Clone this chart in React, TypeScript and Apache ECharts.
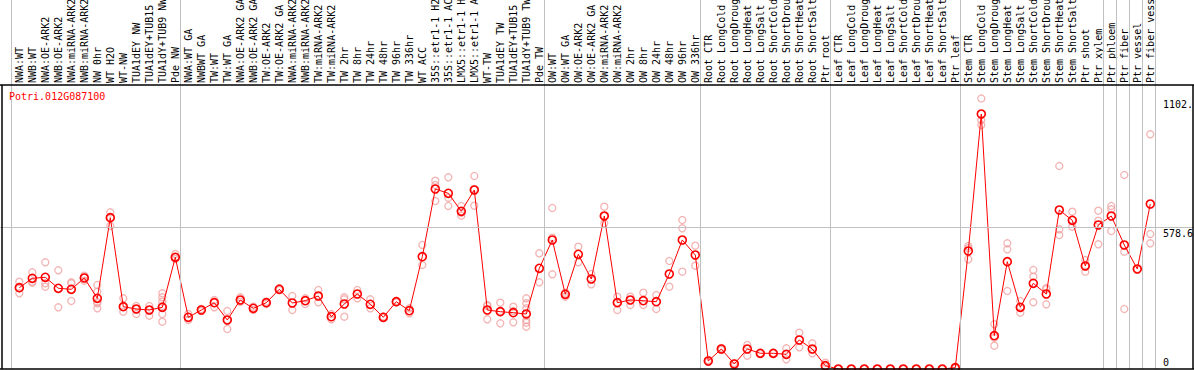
import React, { useEffect, useRef } from 'react';
import * as echarts from 'echarts';

const geneName = 'Potri.012G087100';

const categories = [
  'NWA:WT', 'NWB:WT', 'NWA:OE-ARK2', 'NWB:OE-ARK2', 'NWA:miRNA-ARK2', 'NWB:miRNA-ARK2', 'NW 0hr', 'WT H2O', 'WT-NW', 'TUA1dEY NW', 'TUA1dEY+TUB15', 'TUA1dY+TUB9 NW', 'Pde NW',
  'NWA:WT GA', 'NWBWT GA', 'TW:WT', 'TW:WT GA', 'NWA:OE-ARK2 GA', 'NWB:OE-ARK2 GA', 'TW:OE-ARK2', 'TW:OE-ARK2 GA', 'NWA:miRNA-ARK2', 'NWB:miRNA-ARK2', 'TW:miRNA-ARK2', 'TW:miRNA-ARK2', 'TW 2hr', 'TW 8hr', 'TW 24hr', 'TW 48hr', 'TW 96hr', 'TW 336hr', 'WT ACC', '35S::etr1-1 H2', '35S::etr1-1 AC', 'LMX5::etr1-1 H', 'LMX5::etr1-1 A', 'WT-TW', 'TUA1dEY TW', 'TUA1dEY+TUB15', 'TUA1dY+TUB9 TW', 'Pde TW',
  'OW:WT', 'OW:WT GA', 'OW:OE-ARK2', 'OW:OE-ARK2 GA', 'OW:miRNA-ARK2', 'OW:miRNA-ARK2', 'OW 2hr', 'OW 8hr', 'OW 24hr', 'OW 48hr', 'OW 96hr', 'OW 336hr',
  'Root CTR', 'Root LongCold', 'Root LongDroug', 'Root LongHeat', 'Root LongSalt', 'Root ShortCold', 'Root ShortDrou', 'Root ShortHeat', 'Root ShortSalt', 'Ptr root',
  'Leaf CTR', 'Leaf LongCold', 'Leaf LongDroug', 'Leaf LongHeat', 'Leaf LongSalt', 'Leaf ShortCold', 'Leaf ShortDrou', 'Leaf ShortHeat', 'Leaf ShortSalt', 'Ptr leaf',
  'Stem CTR', 'Stem LongCold', 'Stem LongDroug', 'Stem LongHeat', 'Stem LongSalt', 'Stem ShortCold', 'Stem ShortDrou', 'Stem ShortHeat', 'Stem ShortSalt', 'Ptr shoot', 'Ptr xylem', 'Ptr phloem', 'Ptr fiber', 'Ptr vessel', 'Ptr fiber vess',
];

const means = [
  331.3, 369.6, 373.6, 328.8, 324.7, 370.8, 288.1, 616.5, 253.8, 244.5, 240.4, 251.4, 455.1,
  210.7, 240.4, 270.1, 199.7, 281.1, 247.3, 270.1, 324.7, 268.9, 278.3, 297.4, 213.1, 264.8, 305.6, 263.6, 210.7, 274.2, 237.5, 457.6, 733.4, 715.9, 642.6, 729.4, 240.4, 233.5, 229.4, 224.1, 410.3,
  525.6, 304.4, 467.4, 366.7, 623.4, 270.1, 281.1, 278.3, 274.2, 387.1, 525.6, 464.5,
  32.6, 81.5, 20.4, 81.5, 64.0, 64.0, 59.9, 118.2, 81.5, 13.4,
  0, 0, 0, 0, 0, 0, 0, 0, 0, 5.3,
  480.8, 1039.0, 135.7, 437.2, 251.4, 349.2, 305.6, 647.9, 605.9, 419.7, 586.7, 623.4, 505.3, 407.5, 672.3,
];

const replicates = [
  [355.7, 329.0, 308.5], [394.0, 355.7, 351.6], [434.8, 349.2, 335.3], [402.2, 251.4], [353.3, 349.2, 277.1],
  [380.2, 373.6, 359.8], [342.3, 315.0, 273.0, 267.7, 247.3], [638.5, 616.5, 582.7], [288.1, 253.8, 233.5],
  [256.7, 244.5, 224.1], [256.7, 240.4, 217.2], [308.5, 292.1, 274.2, 256.7, 224.1, 192.7], [468.6, 455.1, 448.2],
  [224.1, 199.7], [244.5, 236.3], [281.1, 251.4], [236.3, 199.7, 163.0], [292.1, 274.2], [253.8, 240.4],
  [274.2, 264.8], [330.0, 321.9], [297.4, 240.4], [288.1, 264.8], [321.9, 297.4, 271.8], [224.1, 202.5],
  [292.1, 284.0, 213.1], [321.9, 288.1], [284.0, 247.3], [213.9, 207.8], [277.1, 271.0], [247.3, 227.0],
  [505.3, 423.8], [767.2, 749.7, 684.5], [781.1, 698.0, 664.2], [664.2, 636.9, 624.6], [786.4, 733.4, 665.4],
  [260.8, 256.7, 202.5], [270.1, 236.3, 186.2], [253.8, 236.3, 190.3], [288.1, 267.7, 247.3, 199.7, 188.7, 172.4],
  [471.4, 353.3],
  [656.0, 535.0, 385.9], [310.9, 294.6], [498.3, 434.8], [387.1, 345.1], [661.3, 623.4, 593.7], [294.6, 272.0, 240.4],
  [294.6, 260.8], [310.9, 260.8], [301.5, 244.5], [440.1, 335.3], [607.1, 573.3, 396.5], [502.4, 420.9],
  [36.7, 28.5], [85.6, 77.4], [24.4, 12.2], [97.8, 54.2], [65.2, 61.1], [65.2, 62.3], [84.3, 39.5], [147.9, 88.4],
  [104.7, 64.0], [25.7, 8.1],
  [0, 0], [0, 0], [0, 0], [0, 0], [0, 0], [0, 0], [0, 0], [0, 0], [0, 0], [8.1, 2.0],
  [501.2, 493.0, 447.0], [1102.1, 1014.6, 994.2], [182.1, 127.5, 94.9], [512.2, 487.7, 317.8], [277.1, 248.6, 229.4],
  [403.4, 376.1, 271.8], [330.0, 324.7, 263.6], [827.1, 569.2, 546.0], [640.9, 607.1, 579.8], [444.1, 419.7, 396.5],
  [645.0, 604.3, 508.1], [664.2, 650.7, 562.3], [790.5, 478.0, 244.5], [407.5], [956.3, 550.1, 512.2],
];

// index of the last category of each block (-1 = left edge)
const groupEnds = [-1, 12, 40, 52, 62, 72, 83, 84, 85, 86, 87];

const yTickValues = [0, 578.6, 1102.1];
const yTickLabels = ['0', '578.6', '1102.'];
const yFrameTop = 1157.2;

const MONO = 'DejaVu Sans Mono';

export default function App() {
  const ref = useRef<HTMLDivElement>(null);

  useEffect(() => {
    const chart = echarts.init(ref.current!, null, { renderer: 'svg' });
    const W = 1194;
    const plotBottom = 369;
    const plotTop = 85;
    const step = 13;
    const firstX = 19.3;
    const xMin = -firstX / step;
    const xMax = (W - firstX) / step;
    const yMax = (yFrameTop * plotBottom) / (plotBottom - plotTop);
    const pxToX = (px: number) => (px - firstX) / step;

    const gray = { color: '#c0c0c0', width: 1, type: 'solid' };
    const black = { color: '#000000', width: 1.5, type: 'solid' };

    const markData: any[] = [
      ...groupEnds.map((j) => ({ xAxis: j + 5 / 13, lineStyle: gray })),
      { yAxis: yTickValues[1], lineStyle: gray },
      { yAxis: yFrameTop, lineStyle: black },
      { yAxis: 0, lineStyle: black },
      [
        { coord: [pxToX(1.5), 0], lineStyle: black },
        { coord: [pxToX(1.5), yFrameTop], lineStyle: black },
      ],
      [
        { coord: [pxToX(1193), 0], lineStyle: black },
        { coord: [pxToX(1193), yFrameTop], lineStyle: black },
      ],
    ];

    const repData: number[][] = [];
    replicates.forEach((reps, i) => reps.forEach((v) => repData.push([i, v])));
    const meanData = means.map((v, i) => [i, v]);

    chart.setOption({
      animation: false,
      backgroundColor: '#ffffff',
      title: {
        text: geneName,
        left: 9,
        top: 91,
        padding: 0,
        textStyle: { color: '#ff0000', fontSize: 10, fontFamily: MONO, fontWeight: 'normal' },
      },
      grid: [
        { left: 0, right: 0, top: 0, bottom: 370 - plotBottom, outerBoundsMode: 'none', containLabel: false },
        { left: firstX - step / 2, width: step * categories.length, top: plotTop, height: plotBottom - plotTop, outerBoundsMode: 'none', containLabel: false },
      ],
      xAxis: [
        { type: 'value', gridIndex: 0, min: xMin, max: xMax, show: false },
        {
          type: 'category',
          gridIndex: 1,
          position: 'top',
          data: categories,
          axisLine: { show: false },
          axisTick: { show: false },
          splitLine: { show: false },
          axisLabel: { interval: 0, rotate: 90, margin: 2, fontFamily: MONO, fontSize: 10, color: '#000000' },
        },
      ],
      yAxis: [
        {
          type: 'value',
          gridIndex: 0,
          min: 0,
          max: yMax,
          position: 'right',
          axisLine: { show: false },
          axisTick: { show: false },
          splitLine: { show: false },
          axisLabel: {
            inside: true,
            align: 'left',
            margin: 31,
            customValues: yTickValues,
            fontFamily: MONO,
            fontSize: 10,
            color: '#000000',
            formatter: (v: number) => {
              let k = 0;
              yTickValues.forEach((t, idx) => {
                if (Math.abs(t - v) < 0.01) k = idx;
              });
              return k === 0 ? `{lo|${yTickLabels[k]}}` : `{hi|${yTickLabels[k]}}`;
            },
            rich: {
              hi: { padding: [12, 0, 0, 0], fontFamily: MONO, fontSize: 10, color: '#000000' },
              lo: { padding: [0, 0, 13, 0], fontFamily: MONO, fontSize: 10, color: '#000000' },
            },
          },
        },
        { type: 'value', gridIndex: 1, show: false, min: 0, max: 1 },
      ],
      series: [
        {
          type: 'scatter',
          xAxisIndex: 0,
          yAxisIndex: 0,
          data: repData,
          symbol: 'circle',
          symbolSize: 7,
          clip: false,
          silent: true,
          z: 2,
          itemStyle: { color: 'rgba(0,0,0,0)', borderColor: '#f0a0a0', borderWidth: 1.3 },
          markLine: {
            silent: true,
            symbol: ['none', 'none'],
            label: { show: false },
            data: markData,
          },
        },
        {
          type: 'line',
          xAxisIndex: 0,
          yAxisIndex: 0,
          data: meanData,
          symbol: 'circle',
          symbolSize: 8,
          showAllSymbol: true,
          clip: false,
          silent: true,
          z: 3,
          lineStyle: { color: '#ff0000', width: 1 },
          itemStyle: { color: 'rgba(0,0,0,0)', borderColor: '#ff0000', borderWidth: 1.6 },
          emphasis: { disabled: true },
        },
      ],
    });

    return () => chart.dispose();
  }, []);

  return <div ref={ref} style={{ position: 'fixed', left: 0, top: 0, width: 1194, height: 370 }} />;
}
